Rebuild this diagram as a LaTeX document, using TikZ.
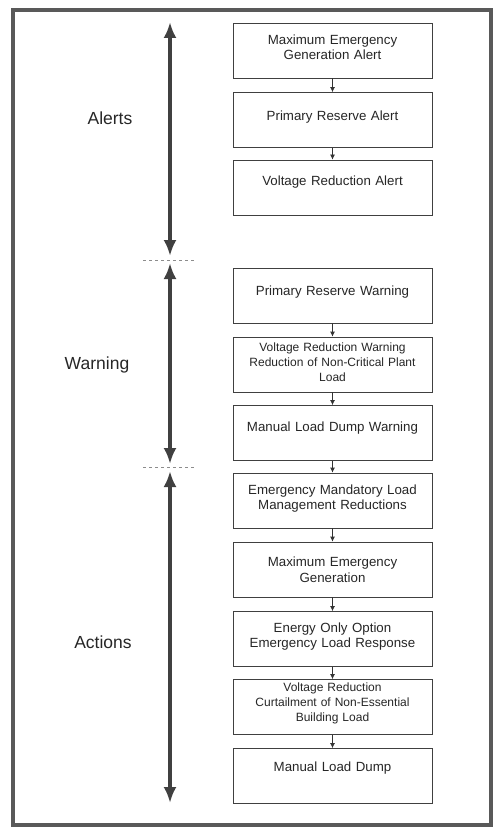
\documentclass[tikz,border=0pt]{standalone}
\usepackage{fontspec}
\setmainfont{Liberation Sans}
\usetikzlibrary{arrows.meta}
\tikzset{
  x=1pt,y=1pt,
  stagebox/.style={draw=black!75,line width=0.8pt,minimum width=199pt,minimum height=55pt,inner sep=0pt},
  boxtext/.style={text width=196pt,align=center,font=\fontsize{13.3}{15.5}\selectfont,inner sep=0pt,text=black!85},
  smalltext/.style={boxtext,font=\fontsize{12}{15}\selectfont},
  flow/.style={draw=black!80,line width=0.8pt,-{Latex[length=5pt,width=5pt]}},
  phase/.style={draw=black!75,line width=4.5pt,{Latex[length=16pt,width=13pt]}-{Latex[length=16pt,width=13pt]}},
  phaselabel/.style={font=\fontsize{17.5}{20}\selectfont,text=black!85},
  sep/.style={draw=black!45,line width=0.8pt,dash pattern=on 3pt off 3pt},
  frame/.style={draw=black!65,line width=4pt}
}
\begin{document}
\begin{tikzpicture}
\useasboundingbox (0,0) rectangle (493,-829);
\draw[frame] (12.5,-10) rectangle (490.5,-825);

% boxes
\node[stagebox] (b1) at (332.5,-50.5) {};
\node[stagebox] (b2) at (332.5,-120) {};
\node[stagebox] (b3) at (332.5,-187.5) {};
\node[stagebox] (b4) at (332.5,-295.5) {};
\node[stagebox] (b5) at (332.5,-364.5) {};
\node[stagebox] (b6) at (332.5,-433) {};
\node[stagebox] (b7) at (332.5,-500.5) {};
\node[stagebox] (b8) at (332.5,-569.5) {};
\node[stagebox] (b9) at (332.5,-639) {};
\node[stagebox] (b10) at (332.5,-707) {};
\node[stagebox] (b11) at (332.5,-776) {};

% box texts
\node[boxtext] (t1) at ([yshift=3.5pt]b1.center) {Maximum Emergency\\Generation Alert};
\node[boxtext] (t2) at ([yshift=3pt]b2.center) {Primary Reserve Alert};
\node[boxtext] (t3) at ([yshift=5.5pt]b3.center) {Voltage Reduction Alert};
\node[boxtext] (t4) at ([yshift=3.5pt]b4.center) {Primary Reserve Warning};
\node[smalltext] (t5) at ([yshift=2.5pt]b5.center) {Voltage Reduction Warning\\Reduction of Non-Critical Plant\\Load};
\node[boxtext] (t6) at ([yshift=5pt]b6.center) {Manual Load Dump Warning};
\node[boxtext] (t7) at ([yshift=2pt]b7.center) {Emergency Mandatory Load\\Management Reductions};
\node[boxtext] (t8) at ([yshift=0pt]b8.center) {Maximum Emergency\\Generation};
\node[boxtext] (t9) at ([yshift=2.5pt]b9.center) {Energy Only Option\\Emergency Load Response};
\node[smalltext] (t10) at ([yshift=3.5pt]b10.center) {Voltage Reduction\\Curtailment of Non-Essential\\Building Load};
\node[boxtext] (t11) at ([yshift=8pt]b11.center) {Manual Load Dump};

% flow arrows
\draw[flow] (b1.south) -- (b2.north);
\draw[flow] (b2.south) -- (b3.north);
\draw[flow] (b4.south) -- (b5.north);
\draw[flow] (b5.south) -- (b6.north);
\draw[flow] (b6.south) -- (b7.north);
\draw[flow] (b7.south) -- (b8.north);
\draw[flow] (b8.south) -- (b9.north);
\draw[flow] (b9.south) -- (b10.north);
\draw[flow] (b10.south) -- (b11.north);

% phase arrows
\coordinate (a1) at (170,-22);
\coordinate (a2) at (170,-256);
\coordinate (w1) at (170,-263);
\coordinate (w2) at (170,-464);
\coordinate (c1) at (170,-471);
\coordinate (c2) at (170,-803);
\draw[phase] (a1) -- (a2);
\draw[phase] (w1) -- (w2);
\draw[phase] (c1) -- (c2);

\coordinate (s1l) at (143,-260);
\coordinate (s1r) at (195,-260);
\coordinate (s2l) at (143,-467);
\coordinate (s2r) at (195,-467);
\draw[sep] (s1l) -- (s1r);
\draw[sep] (s2l) -- (s2r);

\node[phaselabel] (lalerts) at (110,-118) {Alerts};
\node[phaselabel] (lwarn) at (97,-365) {Warning};
\node[phaselabel] (lact) at (103,-642) {Actions};
\end{tikzpicture}
\end{document}
